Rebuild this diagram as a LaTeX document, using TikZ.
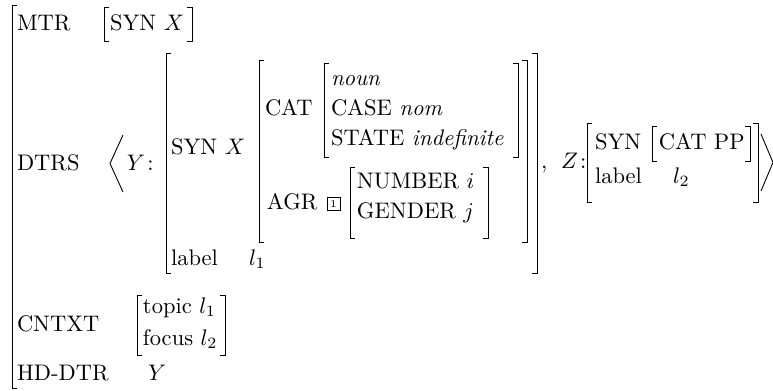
\documentclass[tikz,border=0pt]{standalone}
\usepackage{amsmath}
\tikzset{
  avm/.style={anchor=base west, inner sep=0pt, outer sep=0pt},
  brk/.style={line width=0.4pt, line cap=butt, line join=miter},
  tagbox/.style={draw, line width=0.25pt, inner sep=0pt, minimum size=5.6pt,
    font=\fontsize{4.6}{4.6}\selectfont}
}
% left and right square brackets: x, top y, bottom y
\newcommand\lbrk[3]{\draw[brk] (#1+5,#2) -- (#1,#2) -- (#1,#3) -- (#1+5,#3);}
\newcommand\rbrk[3]{\draw[brk] (#1-5,#2) -- (#1,#2) -- (#1,#3) -- (#1-5,#3);}
\begin{document}
\begin{tikzpicture}[x=0.4444pt,y=-0.4444pt,font=\fontsize{10}{12}\selectfont]
\useasboundingbox (0,0) rectangle (773,390);

% attribute names of the outer matrix
\lbrk{12}{5}{388}
\node[avm] (mtr)  at (17,30)  {MTR};
\node[avm] (dtrs) at (17,170) {DTRS};
\node[avm] (cntxt) at (17,331) {CNTXT};
\node[avm] (hd)   at (17,380) {HD-DTR};

% MTR value
\lbrk{104}{7}{41}
\node[avm] (msyn) at (110,30) {SYN $X$};
\rbrk{192}{7}{41}

% DTRS list
\draw[brk] (123,135) -- (110,163.5) -- (123,192);
\node[avm] (ylab) at (127,170) {$Y$\kern1pt:};

% daughter Y
\lbrk{166}{53}{273}
\node[avm] (ysyn) at (171,154) {SYN $X$};
\node[avm] (ylabel) at (171,265) {label};
\node[avm] (yl1) at (249,265) {$l_1$};
\rbrk{537}{53}{273}

% SYN value of Y
\lbrk{259}{60}{242}
\node[avm] (cat) at (265,115) {CAT};
\node[avm] (agr) at (267,209) {AGR};
\rbrk{527}{60}{242}

% CAT value
\lbrk{324}{63}{157}
\node[avm] (noun)  at (331,85)  {\textit{noun}};
\node[avm] (case)  at (331,115) {CASE \textit{nom}};
\node[avm] (state) at (331,145) {STATE \textit{indefinite}};
\rbrk{518}{63}{157}

% AGR value with its tag
\node[tagbox] (tag1) at (333.5,204) {1};
\lbrk{350}{167}{238}
\node[avm] (num) at (357,188) {NUMBER $i$};
\node[avm] (gen) at (357,218) {GENDER $j$};
\rbrk{488}{167}{238}

% daughter Z
\node[avm] (comma) at (541,168) {,};
\node[avm] (zlab) at (561,168) {$Z$\kern1pt:};
\lbrk{587}{123}{202}
\node[avm] (zsyn) at (595,149) {SYN};
\lbrk{652}{126}{161}
\node[avm] (zcat) at (659,149) {CAT PP};
\rbrk{750}{126}{161}
\node[avm] (zlabel) at (595,183) {label};
\node[avm] (zl2) at (673,183) {$l_2$};
\rbrk{758}{123}{202}
\draw[brk] (761,134) -- (773,162.5) -- (761,191);

% CNTXT value
\lbrk{137}{295}{355}
\node[avm] (topic) at (143,313) {topic $l_1$};
\node[avm] (focus) at (143,345) {focus $l_2$};
\rbrk{225}{295}{355}

% HD-DTR value
\node[avm] (hdy) at (148,380) {$Y$};
\end{tikzpicture}
\end{document}
